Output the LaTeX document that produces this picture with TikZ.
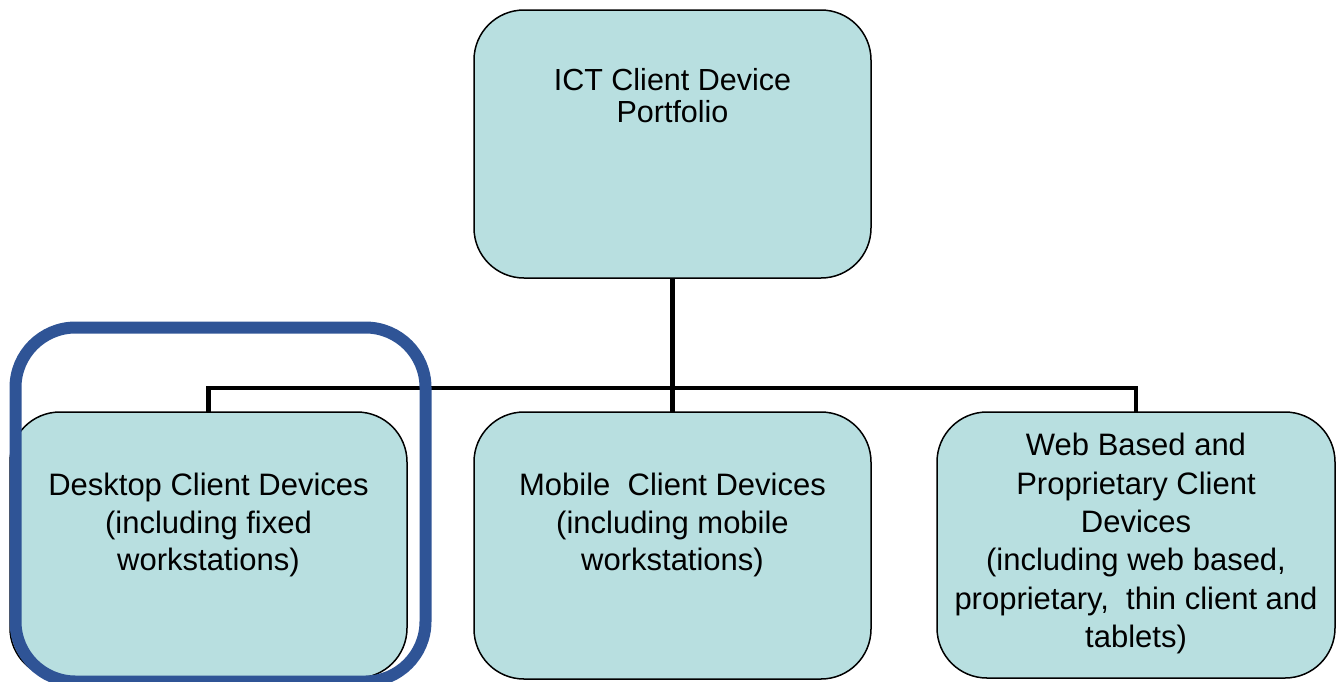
\documentclass[tikz,border=0pt]{standalone}
\usepackage{fontspec}
\setmainfont{Liberation Sans}
\definecolor{boxfill}{RGB}{184,223,224}
\definecolor{hiblue}{RGB}{47,84,150}
\tikzset{
  devbox/.style={draw=black, line width=1.5pt, fill=boxfill, rounded corners=50pt,
    minimum width=397pt, minimum height=266pt, inner sep=0pt, outer sep=0pt},
  lbl/.style={align=center, inner sep=0pt, anchor=north, font=\fontsize{31}{37.5}\selectfont},
  conn/.style={draw=black, line width=4.5pt},
}
\begin{document}
\begin{tikzpicture}[x=1pt,y=-1pt]
\useasboundingbox (0,0) rectangle (1341,681);
\clip (0,0) rectangle (1341,681);
% boxes
\node[devbox, minimum height=268pt] (top) at (672.5,144) {};
\node[devbox] (desk) at (208.5,545) {};
\node[devbox, minimum height=267pt] (mob) at (672.5,545.5) {};
\node[devbox, minimum width=398pt] (web) at (1136,545) {};
% connectors
\coordinate (j) at (672.5,388);
\draw[conn] (top.south) -- (j);
\draw[conn] (desk.north) |- (j);
\draw[conn] (j) -| (web.north);
\draw[conn] (j) -- (mob.north);
% labels
\node[lbl, font=\fontsize{30.5}{32}\selectfont] (t0) at (672.5,68) {ICT Client Device\\Portfolio};
\node[lbl] (t1) at (208.5,473) {Desktop Client Devices\\(including fixed\\workstations)};
\node[lbl] (t2) at (672.5,473) {Mobile\ \ Client Devices\\(including mobile\\workstations)};
\node[lbl, font=\fontsize{31}{38.4}\selectfont] (t3) at (1136,433) {Web Based and\\Proprietary Client\\Devices\\(including web based,\\proprietary,\ \ thin client and\\tablets)};
% highlight
\node[draw=hiblue, line width=12pt, rounded corners=60pt, minimum width=410pt,
  minimum height=354pt, inner sep=0pt, outer sep=0pt] (hl) at (220.5,504.5) {};
\end{tikzpicture}
\end{document}
